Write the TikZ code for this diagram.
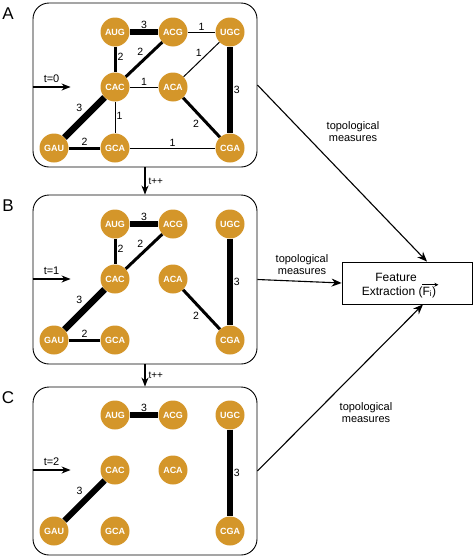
\documentclass[tikz,border=0pt]{standalone}
\usepackage{fontspec}
\setmainfont{Liberation Sans}
\usetikzlibrary{arrows.meta,backgrounds,calc}
\definecolor{gold}{RGB}{212,150,42}
\tikzset{
  nd/.style={circle,fill=gold,draw=none,inner sep=0pt,minimum size=29pt,text=white,font=\bfseries\fontsize{9}{9}\selectfont},
  wA/.style={line width=1pt},
  wB/.style={line width=3pt},
  wC/.style={line width=5.5pt},
  lbl/.style={font=\fontsize{10.5}{10.5}\selectfont,inner sep=1pt},
  panel/.style={draw,rounded corners=16pt,line width=0.9pt,minimum width=224pt,inner sep=0pt},
  arr/.style={-{Stealth[length=10pt,width=8pt]},line width=1.1pt},
  tarr/.style={-{Stealth[length=9pt,width=7pt]},line width=1.1pt},
  txt/.style={font=\fontsize{11}{12}\selectfont,align=center,inner sep=0pt},
  fetxt/.style={font=\fontsize{12}{12}\selectfont,inner sep=0pt},
  plab/.style={font=\fontsize{17}{17}\selectfont,inner sep=0pt}
}
\newcommand\placenodes[2]{%
  \node[nd] (AUG#1) at (115,#2+32) {AUG};
  \node[nd] (ACG#1) at (173,#2+32) {ACG};
  \node[nd] (UGC#1) at (230,#2+32) {UGC};
  \node[nd] (CAC#1) at (115,#2+87) {CAC};
  \node[nd] (ACA#1) at (173,#2+87) {ACA};
  \node[nd] (GAU#1) at (54,#2+148) {GAU};
  \node[nd] (GCA#1) at (115,#2+148) {GCA};
  \node[nd] (CGA#1) at (230,#2+148) {CGA};
}
\begin{document}
\begin{tikzpicture}[x=1pt,y=-1pt]
\useasboundingbox (0,0) rectangle (474,557);
% panels
\node[panel,minimum height=164pt] (boxA) at (145,85) {};
\node[panel,minimum height=169pt] (boxB) at (145,279.5) {};
\node[panel,minimum height=168pt] (boxC) at (145,471) {};
\node[plab] (labA) at (8,14) {A};
\node[plab] (labB) at (8,206) {B};
\node[plab] (labC) at (8,398) {C};
% nodes
\placenodes{a}{0}
\placenodes{b}{192}
\placenodes{c}{383}
\begin{scope}[on background layer]
% panel A edges
\draw[wC] (AUGa) -- node[lbl,above] {3} (ACGa);
\draw[wA] (ACGa) -- node[lbl,above] {1} (UGCa);
\draw[wB] (AUGa) -- node[lbl,right,pos=0.4] {2} (CACa);
\draw[wB] (CACa) -- node[lbl,above left,pos=0.55] {2} (ACGa);
\draw[wA] (UGCa) -- node[lbl,above left,pos=0.45] {1} (ACAa);
\draw[wC] (UGCa) -- node[lbl,right,pos=0.5] {3} (CGAa);
\draw[wA] (CACa) -- node[lbl,above] {1} (ACAa);
\draw[wA] (CACa) -- node[lbl,right,pos=0.45] {1} (GCAa);
\draw[wB] (ACAa) -- node[lbl,below left,pos=0.5] {2} (CGAa);
\draw[line width=6.5pt] (CACa) -- node[lbl,above left,pos=0.45] {3} (GAUa);
\draw[wB] (GAUa) -- node[lbl,above] {2} (GCAa);
\draw[wA] (GCAa) -- node[lbl,above] {1} (CGAa);
% panel B edges
\draw[wC] (AUGb) -- node[lbl,above] {3} (ACGb);
\draw[wB] (AUGb) -- node[lbl,right,pos=0.4] {2} (CACb);
\draw[wB] (CACb) -- node[lbl,above left,pos=0.55] {2} (ACGb);
\draw[wC] (UGCb) -- node[lbl,right,pos=0.5] {3} (CGAb);
\draw[wB] (ACAb) -- node[lbl,below left,pos=0.5] {2} (CGAb);
\draw[line width=6.5pt] (CACb) -- node[lbl,above left,pos=0.45] {3} (GAUb);
\draw[wB] (GAUb) -- node[lbl,above] {2} (GCAb);
% panel C edges
\draw[wC] (AUGc) -- node[lbl,above] {3} (ACGc);
\draw[wC] (UGCc) -- node[lbl,right,pos=0.5] {3} (CGAc);
\draw[line width=6pt] (CACc) -- node[lbl,above left,pos=0.45] {3} (GAUc);
\end{scope}
% time arrows
\draw[tarr] (boxA.west |- CACa) -- ++(38,0) node[txt,midway,above=4pt] {t=0};
\draw[tarr] (boxB.west |- CACb) -- ++(38,0) node[txt,midway,above=4pt] {t=1};
\draw[tarr] (boxC.west |- CACc) -- ++(38,0) node[txt,midway,above=4pt] {t=2};
\draw[tarr] (boxA.south) -- node[txt,right=3pt,font=\fontsize{10}{10}\selectfont] {t++} (boxB.north);
\draw[tarr] (boxB.south) -- node[txt,right=3pt,font=\fontsize{10}{10}\selectfont] {t++} (boxC.north);
% feature extraction
\node[draw,line width=0.8pt,minimum width=130pt,minimum height=42pt,inner sep=0pt] (fe) at (407,283) {};
\node[fetxt] (fe1) at (396,277) {Feature};
\node[fetxt] (fe2) at (399,292) {Extraction (F\textsubscript{i})};
\draw[-{Stealth[length=4pt,width=4pt]},line width=0.7pt]
  ([xshift=-14pt,yshift=1.5pt]fe2.north east) -- ++(16,0);
\draw[arr] (boxA.east) -- ([xshift=20pt]fe.north);
\draw[arr] (boxB.east) -- (fe.west);
\draw[arr] (boxC.east) -- ([xshift=16pt]fe.south);
\node[txt] (tmA) at (353,132) {topological\\measures};
\node[txt] (tmB) at (302,265) {topological\\measures};
\node[txt] (tmC) at (366,413) {topological\\measures};
\end{tikzpicture}
\end{document}
